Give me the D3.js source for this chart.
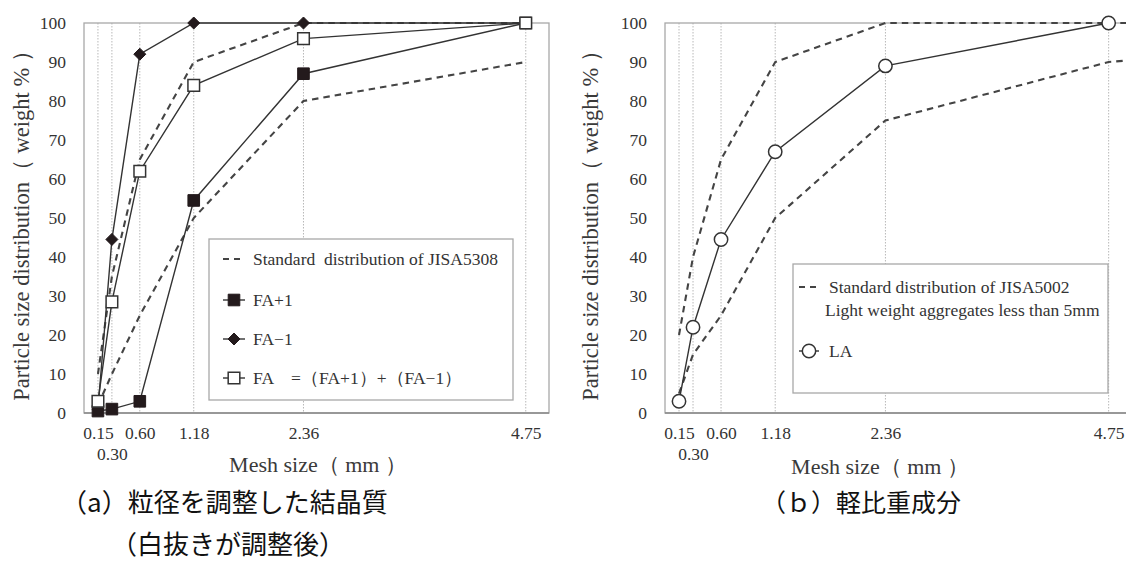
<!DOCTYPE html>
<html>
<head>
<meta charset="utf-8">
<script src="https://cdn.jsdelivr.net/npm/d3@7"></script>
<style>
  html, body { margin: 0; padding: 0; background: #fff; }
  svg { display: block; }
</style>
</head>
<body>
<svg id="chart" width="1126" height="567"></svg>
<script>
const SERIF = "'Liberation Serif', 'Times New Roman', serif";
const CJK = "'Noto Sans CJK JP', 'Noto Sans', sans-serif";

// Sieve openings (mm)
const sieves = [0.15, 0.30, 0.60, 1.18, 2.36, 4.75];
const xTickRow1 = ["0.15", "0.60", "1.18", "2.36", "4.75"];
const xTickRow2 = ["0.30"];
const yTicks = [0, 10, 20, 30, 40, 50, 60, 70, 80, 90, 100];

// (a) crystalline fine aggregate, percent passing
const jis5308Upper = [10, 35, 65, 90, 100, 100];
const jis5308Lower = [2, 10, 25, 50, 80, 90];
const faPlus1  = [0.5, 1, 3, 54.5, 87, 100];
const faMinus1 = [1, 44.5, 92, 100, 100, 100];
const faMix    = [3, 28.5, 62, 84, 96, 100];

// (b) lightweight component, percent passing
const sievesLA = [0.15, 0.30, 0.60, 1.18, 2.36, 4.75, 10];
const jis5002Upper = [20, 40, 65, 90, 100, 100, 100];
const jis5002Lower = [5, 15, 25, 50, 75, 90, 100];
const laValues = [3, 22, 44.5, 67, 89, 100];

const svg = d3.select("#chart");
const axisTitleY = "Particle size distribution（ weight % ）";
const axisTitleX = "Mesh size（ mm ）";

function drawPanel(id, left, right, top, bottom) {
  const g = svg.append("g").attr("id", id);
  const x = d3.scaleLinear().domain([0, 5]).range([left, right]);
  const y = d3.scaleLinear().domain([0, 100]).range([bottom, top]);

  g.append("clipPath").attr("id", id + "-clip")
    .append("rect").attr("x", left).attr("y", top - 8)
    .attr("width", right - left).attr("height", bottom - top + 16);

  // dotted verticals at each sieve
  g.selectAll("line.grid").data(sieves).join("line")
    .attr("class", "grid")
    .attr("x1", d => x(d)).attr("x2", d => x(d))
    .attr("y1", top).attr("y2", bottom)
    .attr("stroke", "#b8b8b8").attr("stroke-width", 1)
    .attr("stroke-dasharray", "1.5,1.5");

  // frame
  g.append("rect").attr("x", left).attr("y", top)
    .attr("width", right - left).attr("height", bottom - top)
    .attr("fill", "none").attr("stroke", "#a8a8a8").attr("stroke-width", 1.3);
  g.append("line").attr("x1", left).attr("x2", right)
    .attr("y1", bottom).attr("y2", bottom)
    .attr("stroke", "#888").attr("stroke-width", 1.5);

  // y axis labels
  const ya = d3.axisLeft(y).tickValues(yTicks).tickSize(0).tickPadding(18);
  const yg = g.append("g").attr("transform", `translate(${left},0)`).call(ya)
    .attr("font-family", SERIF).attr("font-size", 17.5);
  yg.select(".domain").remove();
  yg.selectAll("text").attr("fill", "#333");

  // x axis labels, two rows
  const xa = d3.axisBottom(x).tickValues(xTickRow1.map(Number))
    .tickFormat(d3.format(".2f")).tickSize(0).tickPadding(14);
  const xg = g.append("g").attr("transform", `translate(0,${bottom})`).call(xa)
    .attr("font-family", SERIF).attr("font-size", 17.5);
  xg.select(".domain").remove();
  xg.selectAll("text").attr("fill", "#333");
  const xa2 = d3.axisBottom(x).tickValues(xTickRow2.map(Number))
    .tickFormat(d3.format(".2f")).tickSize(0).tickPadding(35);
  const xg2 = g.append("g").attr("transform", `translate(0,${bottom})`).call(xa2)
    .attr("font-family", SERIF).attr("font-size", 17.5);
  xg2.select(".domain").remove();
  xg2.selectAll("text").attr("fill", "#333");

  return { g, x, y };
}

function dashedLine(p, xs, ys) {
  const line = d3.line().x((d, i) => p.x(xs[i])).y(d => p.y(d));
  p.g.append("path").datum(ys)
    .attr("clip-path", `url(#${p.g.attr("id")}-clip)`)
    .attr("d", line).attr("fill", "none")
    .attr("stroke", "#444").attr("stroke-width", 2.1)
    .attr("stroke-dasharray", "6.5,5");
}

function solidLine(p, xs, ys) {
  const line = d3.line().x((d, i) => p.x(xs[i])).y(d => p.y(d));
  p.g.append("path").datum(ys)
    .attr("d", line).attr("fill", "none")
    .attr("stroke", "#333").attr("stroke-width", 1.4);
}

function markers(p, xs, ys, kind) {
  const sel = p.g.append("g").selectAll("path").data(ys).join("path")
    .attr("transform", (d, i) => `translate(${p.x(xs[i])},${p.y(d)})`);
  styleMarker(sel, kind);
}

function styleMarker(sel, kind) {
  if (kind === "fsquare") {
    sel.attr("d", d3.symbol(d3.symbolSquare, 135)())
      .attr("fill", "#231a1c").attr("stroke", "#231a1c").attr("stroke-width", 1);
  } else if (kind === "diamond") {
    sel.attr("d", "M0,-6L6,0L0,6L-6,0Z")
      .attr("fill", "#231a1c").attr("stroke", "#231a1c").attr("stroke-width", 1);
  } else if (kind === "osquare") {
    sel.attr("d", d3.symbol(d3.symbolSquare, 135)())
      .attr("fill", "#fff").attr("stroke", "#333").attr("stroke-width", 1.5);
  } else if (kind === "circle") {
    sel.attr("d", d3.symbol(d3.symbolCircle, 140)())
      .attr("fill", "#fff").attr("stroke", "#333").attr("stroke-width", 1.5);
  }
}

function axisTitles(cx, cyTitleX, tx, tyMid) {
  svg.append("text").attr("font-family", SERIF)
    .attr("x", cx).attr("y", cyTitleX).attr("text-anchor", "middle")
    .attr("font-size", 22).attr("fill", "#3a3a3a").text(axisTitleX);
  svg.append("text").attr("font-family", SERIF)
    .attr("transform", `translate(${tx},${tyMid}) rotate(-90)`)
    .attr("text-anchor", "middle").attr("font-size", 22.5).attr("fill", "#3a3a3a")
    .text(axisTitleY);
}

// ---------- panel (a) ----------
const pa = drawPanel("pa", 84, 549, 23, 413);
dashedLine(pa, sieves, jis5308Upper);
dashedLine(pa, sieves, jis5308Lower);
solidLine(pa, sieves, faPlus1);
solidLine(pa, sieves, faMinus1);
solidLine(pa, sieves, faMix);
markers(pa, sieves, faPlus1, "fsquare");
markers(pa, sieves, faMinus1, "diamond");
markers(pa, sieves, faMix, "osquare");
axisTitles(318, 472, 29, 220);

// legend (a)
const la = svg.append("g");
la.append("rect").attr("x", 209).attr("y", 239).attr("width", 304).attr("height", 161)
  .attr("fill", "#fff").attr("stroke", "#a8a8a8").attr("stroke-width", 1.3);
const legA = [
  { kind: "dash", label: "Standard  distribution of JISA5308", y: 259 },
  { kind: "fsquare", label: "FA+1", y: 300 },
  { kind: "diamond", label: "FA−1", y: 339 },
  { kind: "osquare", label: "FA　=（FA+1）+（FA−1）", y: 378 }
];
legA.forEach(it => {
  if (it.kind === "dash") {
    la.append("line").attr("x1", 223).attr("x2", 245).attr("y1", it.y).attr("y2", it.y)
      .attr("stroke", "#444").attr("stroke-width", 2).attr("stroke-dasharray", "6,5");
  } else {
    la.append("line").attr("x1", 223).attr("x2", 245).attr("y1", it.y).attr("y2", it.y)
      .attr("stroke", "#333").attr("stroke-width", 1.4);
    const m = la.append("path").attr("transform", `translate(234,${it.y})`);
    styleMarker(m, it.kind);
  }
  la.append("text").attr("font-family", SERIF).attr("x", 253).attr("y", it.y + 6)
    .attr("font-size", 17.5).attr("fill", "#333").attr("xml:space", "preserve")
    .text(it.label);
});

// ---------- panel (b) ----------
const pb = drawPanel("pb", 665, 1132, 23, 413);
dashedLine(pb, sievesLA, jis5002Upper);
dashedLine(pb, sievesLA, jis5002Lower);
solidLine(pb, sieves, laValues);
markers(pb, sieves, laValues, "circle");
axisTitles(880, 474, 598, 220);

// legend (b)
const lb = svg.append("g");
lb.append("rect").attr("x", 793).attr("y", 264).attr("width", 315).attr("height", 129)
  .attr("fill", "#fff").attr("stroke", "#a8a8a8").attr("stroke-width", 1.3);
lb.append("line").attr("x1", 799).attr("x2", 819).attr("y1", 287).attr("y2", 287)
  .attr("stroke", "#444").attr("stroke-width", 2).attr("stroke-dasharray", "6,5");
lb.append("text").attr("font-family", SERIF).attr("x", 829).attr("y", 293)
  .attr("font-size", 17.5).attr("fill", "#333").text("Standard distribution of JISA5002");
lb.append("text").attr("font-family", SERIF).attr("x", 825).attr("y", 316)
  .attr("font-size", 17.5).attr("fill", "#333").text("Light weight aggregates less than 5mm");
lb.append("line").attr("x1", 799).attr("x2", 819).attr("y1", 351).attr("y2", 351)
  .attr("stroke", "#333").attr("stroke-width", 1.4);
styleMarker(lb.append("path").attr("transform", "translate(809,351)"), "circle");
lb.append("text").attr("font-family", SERIF).attr("x", 829).attr("y", 357)
  .attr("font-size", 17.5).attr("fill", "#333").text("LA");

// ---------- captions ----------
svg.append("text").attr("font-family", CJK).attr("x", 61).attr("y", 512)
  .attr("font-size", 26).attr("fill", "#111").text("（a）粒径を調整した結晶質");
svg.append("text").attr("font-family", CJK).attr("x", 111).attr("y", 554)
  .attr("font-size", 26).attr("fill", "#111").text("（白抜きが調整後）");
svg.append("text").attr("font-family", CJK).attr("x", 761).attr("y", 512)
  .attr("font-size", 25).attr("fill", "#111").text("（ｂ）軽比重成分");
</script>
</body>
</html>
